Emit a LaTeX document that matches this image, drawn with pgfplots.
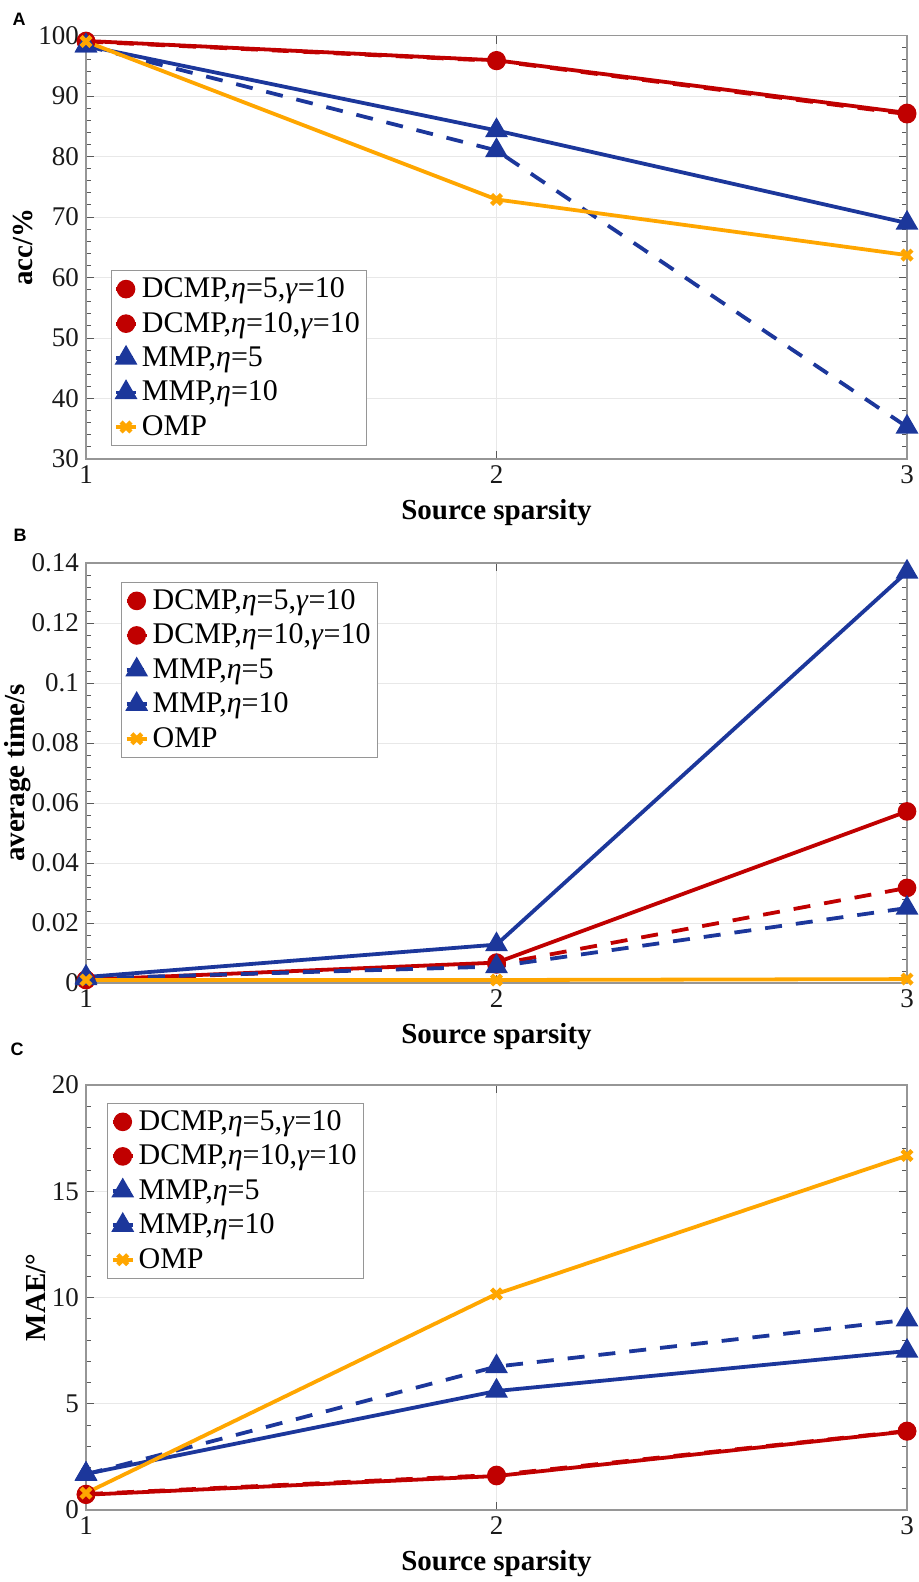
\documentclass[border=0pt]{standalone}
\usepackage{fontspec}
\setmainfont{Liberation Serif}
\newfontfamily\panelfont{Liberation Sans}
\usepackage{pgfplots}
\pgfplotsset{compat=1.18}

\definecolor{dcred}{RGB}{192,0,0}
\definecolor{mmblue}{RGB}{28,55,155}
\definecolor{ompor}{RGB}{255,166,0}
\definecolor{axgray}{RGB}{150,150,150}
\definecolor{gridgray}{RGB}{232,232,232}

\pgfplotsset{
  panel/.style={
    scale only axis, width=410.5pt,
    xmin=1, xmax=3, xtick={1,2,3},
    axis line style={axgray, line width=0.6pt},
    tick style={black!65, line width=0.5pt},
    major tick length=4pt, minor tick length=2.5pt,
    tick align=inside,
    grid=major, major grid style={gridgray, line width=0.5pt},
    minor y tick num=4,
    clip=false,
    /pgf/number format/assume math mode=true,
    xticklabel={\rmfamily\pgfmathprintnumber[assume math mode=true]{\tick}},
    yticklabel={\rmfamily\pgfmathprintnumber[assume math mode=true]{\tick}},
    tick label style={font=\rmfamily\fontsize{13.5}{13.5}\selectfont, text=black!90},
    xlabel={Source sparsity},
    every axis x label/.style={at={(axis description cs:0.5,0)}, anchor=center, yshift=-27pt,
      font=\bfseries\fontsize{14.5}{14.5}\selectfont},
    legend style={font=\fontsize{15}{16}\selectfont, draw=axgray, line width=0.5pt,
      anchor=north west, cells={anchor=west}, inner sep=1.5pt, row sep=1.8pt},
    legend image code/.code={\draw[mark repeat=2,mark phase=2,#1]
      plot coordinates {(0pt,0pt) (5pt,0pt) (10pt,0pt)};},
  },
  dc5/.style={dcred, line width=1.9pt, dash pattern=on 8.5pt off 7pt, mark=*, mark size=3.7pt, mark options={solid}},
  dc10/.style={dcred, line width=1.9pt, solid, mark=*, mark size=3.7pt},
  mm5/.style={mmblue, line width=1.9pt, dash pattern=on 8.5pt off 7pt, mark=triangle*, mark size=4.7pt, mark options={solid}},
  mm10/.style={mmblue, line width=1.9pt, solid, mark=triangle*, mark size=4.7pt},
  omp/.style={ompor, line width=1.9pt, solid, mark=x, mark size=3.5pt, mark options={line width=2.2pt}},
}

\begin{document}
\begin{tikzpicture}
\path[use as bounding box] (0,0) rectangle (459.5pt,-791pt);

% A: accuracy
\begin{axis}[panel, at={(43pt,-229.5pt)}, anchor=south west, height=211.75pt,
  ymin=30, ymax=100, ytick={30,40,...,100},
  ylabel={acc/\%},
  every axis y label/.style={at={(axis description cs:-0.077,0.5)}, rotate=90, anchor=center,
    font=\bfseries\fontsize{14.5}{14.5}\selectfont},
  legend style={at={(axis description cs:0.03,0.446)}}]
\addplot[dc5] coordinates {(1,99.0) (2,95.8) (3,87.0)};
\addplot[dc10] coordinates {(1,99.1) (2,95.9) (3,87.2)};
\addplot[mm5] coordinates {(1,98.3) (2,81.0) (3,35.3)};
\addplot[mm10] coordinates {(1,98.3) (2,84.3) (3,69.0)};
\addplot[omp] coordinates {(1,99.0) (2,72.9) (3,63.7)};
\legend{{DCMP,\textit{η}=5,\textit{γ}=10}, {DCMP,\textit{η}=10,\textit{γ}=10}, {MMP,\textit{η}=5}, {MMP,\textit{η}=10}, OMP}
\end{axis}

% B: time
\begin{axis}[panel, at={(43pt,-491.5pt)}, anchor=south west, height=210pt,
  ymin=0, ymax=0.14, ytick={0,0.02,...,0.14},
  scaled y ticks=false,
  yticklabel={\rmfamily\pgfmathprintnumber[assume math mode=true, fixed, precision=2]{\tick}},
  ylabel={average time/s},
  every axis y label/.style={at={(axis description cs:-0.083,0.5)}, rotate=90, anchor=center,
    font=\bfseries\fontsize{14.5}{14.5}\selectfont},
  legend style={at={(axis description cs:0.043,0.955)}}]
\addplot[dc5] coordinates {(1,0.0010) (2,0.0062) (3,0.0317)};
\addplot[dc10] coordinates {(1,0.0011) (2,0.0068) (3,0.0572)};
\addplot[mm5] coordinates {(1,0.0015) (2,0.0055) (3,0.0250)};
\addplot[mm10] coordinates {(1,0.0020) (2,0.0128) (3,0.1370)};
\addplot[omp] coordinates {(1,0.0010) (2,0.0010) (3,0.0013)};
\legend{{DCMP,\textit{η}=5,\textit{γ}=10}, {DCMP,\textit{η}=10,\textit{γ}=10}, {MMP,\textit{η}=5}, {MMP,\textit{η}=10}, OMP}
\end{axis}

% C: MAE
\begin{axis}[panel, at={(43pt,-755pt)}, anchor=south west, height=212.5pt,
  ymin=0, ymax=20, ytick={0,5,...,20},
  ylabel={MAE/°},
  every axis y label/.style={at={(axis description cs:-0.061,0.5)}, rotate=90, anchor=center,
    font=\bfseries\fontsize{14.5}{14.5}\selectfont},
  legend style={at={(axis description cs:0.026,0.958)}}]
\addplot[dc5] coordinates {(1,0.75) (2,1.65) (3,3.72)};
\addplot[dc10] coordinates {(1,0.72) (2,1.60) (3,3.70)};
\addplot[mm5] coordinates {(1,1.68) (2,6.75) (3,8.95)};
\addplot[mm10] coordinates {(1,1.70) (2,5.60) (3,7.48)};
\addplot[omp] coordinates {(1,0.80) (2,10.17) (3,16.68)};
\legend{{DCMP,\textit{η}=5,\textit{γ}=10}, {DCMP,\textit{η}=10,\textit{γ}=10}, {MMP,\textit{η}=5}, {MMP,\textit{η}=10}, OMP}
\end{axis}

\node[font=\panelfont\bfseries\fontsize{9}{9}\selectfont] at (9.5pt,-9.5pt) {A};
\node[font=\panelfont\bfseries\fontsize{9}{9}\selectfont] at (10pt,-267.5pt) {B};
\node[font=\panelfont\bfseries\fontsize{9}{9}\selectfont] at (8.5pt,-524.5pt) {C};
\end{tikzpicture}
\end{document}
